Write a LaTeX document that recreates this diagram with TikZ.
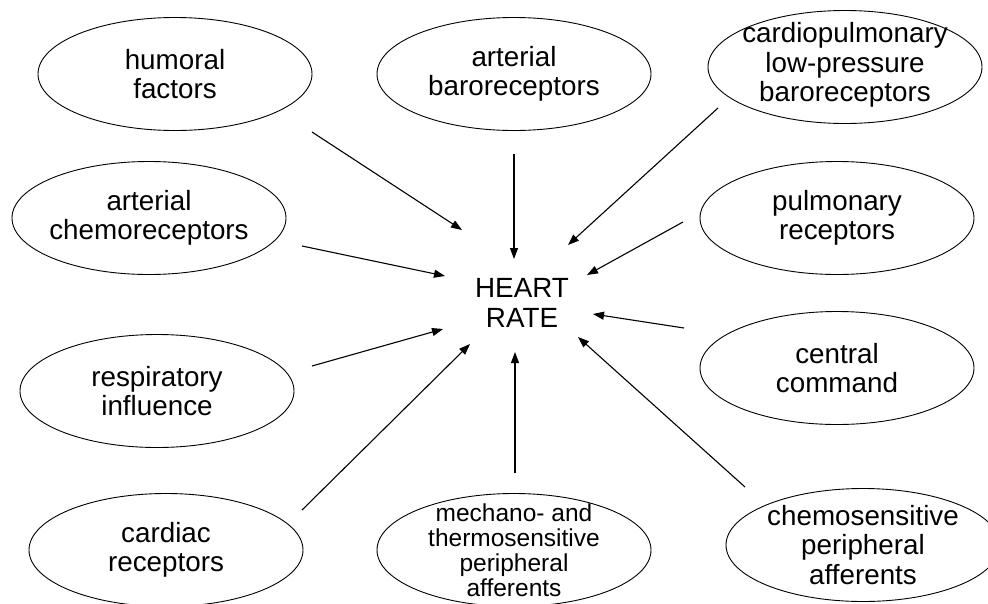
\documentclass[tikz,border=0pt]{standalone}
\usepackage{fontspec}
\setmainfont{Liberation Sans}
\usetikzlibrary{shapes.geometric,arrows.meta}
\begin{document}
\begin{tikzpicture}[x=1pt,y=-1pt,
  oval/.style={draw, ellipse, line width=0.9pt, minimum width=274pt, minimum height=113pt, inner sep=0pt, outer sep=0pt},
  lbl/.style={align=center, inner sep=0pt, font=\fontsize{27.8}{29.5}\selectfont},
  sml/.style={align=center, inner sep=0pt, font=\fontsize{24.5}{25}\selectfont},
  arr/.style={line width=1.1pt, -{Triangle[length=11pt,width=8pt]}}]
\useasboundingbox (0,0) rectangle (988,603);
\clip (0,0) rectangle (988,603);

% ellipses
\node[oval] (hum) at (175,74) {};
\node[oval] (abaro) at (514,74) {};
\node[oval] (cpul) at (845,67) {};
\node[oval] (achemo) at (149,218) {};
\node[oval] (pulm) at (837,218) {};
\node[oval] (resp) at (157,391) {};
\node[oval] (ccmd) at (837,368) {};
\node[oval] (card) at (166,550) {};
\node[oval] (mech) at (514,550) {};
\node[oval] (chem) at (863,545) {};

% texts
\node[lbl] (humT) at (hum) {humoral\\factors};
\node[lbl] (abaroT) at (abaro) {arterial\\baroreceptors};
\node[lbl] (cpulT) at ([yshift=2]cpul) {cardiopulmonary\\low-pressure\\baroreceptors};
\node[lbl] (achemoT) at (achemo) {arterial\\chemoreceptors};
\node[lbl] (pulmT) at (pulm) {pulmonary\\receptors};
\node[lbl] (respT) at (resp) {respiratory\\influence};
\node[lbl] (ccmdT) at (ccmd) {central\\command};
\node[lbl] (cardT) at (card) {cardiac\\receptors};
\node[sml] (mechT) at (mech) {mechano- and\\thermosensitive\\peripheral\\afferents};
\node[lbl] (chemT) at (chem) {chemosensitive\\peripheral\\afferents};
\node[lbl] (hr) at (522,303) {HEART\\RATE};

% arrow end points
\coordinate (humS) at (312,132);   \coordinate (humE) at (462,230);
\coordinate (abaroS) at (514,154); \coordinate (abaroE) at (514,259);
\coordinate (cpulS) at (718,108);  \coordinate (cpulE) at (568,245);
\coordinate (achemoS) at (302,246);\coordinate (achemoE) at (445,276);
\coordinate (pulmS) at (683,222);  \coordinate (pulmE) at (587,275);
\coordinate (respS) at (312,366);  \coordinate (respE) at (443,329);
\coordinate (cardS) at (302,510);  \coordinate (cardE) at (470,344);
\coordinate (mechS) at (515,473);  \coordinate (mechE) at (515,352);
\coordinate (ccmdS) at (684,328);  \coordinate (ccmdE) at (593,314);
\coordinate (chemS) at (745,487);  \coordinate (chemE) at (578,337);

\draw[arr] (humS) -- (humE);
\draw[arr] (abaroS) -- (abaroE);
\draw[arr] (cpulS) -- (cpulE);
\draw[arr] (achemoS) -- (achemoE);
\draw[arr] (pulmS) -- (pulmE);
\draw[arr] (respS) -- (respE);
\draw[arr] (cardS) -- (cardE);
\draw[arr] (mechS) -- (mechE);
\draw[arr] (ccmdS) -- (ccmdE);
\draw[arr] (chemS) -- (chemE);
\end{tikzpicture}
\end{document}
